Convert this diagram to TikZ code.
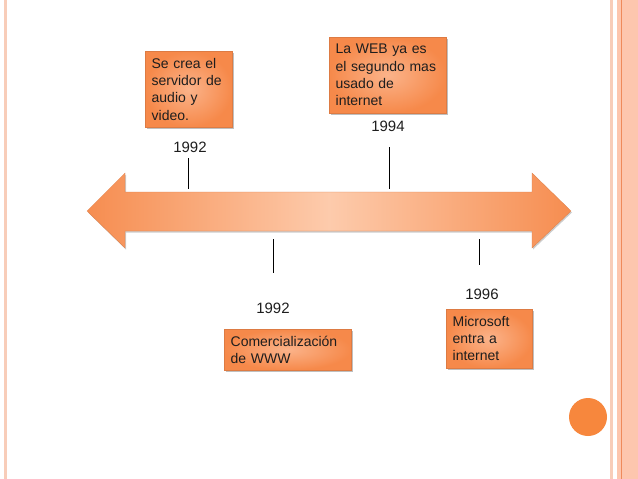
\documentclass[tikz,border=0pt]{standalone}
\usepackage{fontspec}
\setmainfont{Liberation Sans}
\usetikzlibrary{shadows}
\definecolor{boxout}{HTML}{F6894A}
\definecolor{boxin}{HTML}{FBB38A}
\definecolor{arrend}{HTML}{F68D50}
\definecolor{arrmid}{HTML}{FDCBAC}
\definecolor{bordlight}{HTML}{F8CDB9}
\definecolor{bordpanel}{HTML}{FDC6AE}
\definecolor{bordline}{HTML}{EF8A5B}
\definecolor{dotc}{HTML}{F7873D}
\definecolor{txt}{HTML}{1E1E1E}
\tikzset{
  evbox/.style={rectangle, inner color=boxin, outer color=boxout, draw=boxout!90!black, line width=0.3pt,
    drop shadow={shadow xshift=1.5pt, shadow yshift=-1.5pt, fill=black, opacity=0.25},
    anchor=north west, align=left, inner xsep=6.5pt, inner ysep=2pt,
    font=\fontsize{14}{17.3}\selectfont, text=txt},
  yearlbl/.style={font=\fontsize{15}{17}\selectfont, text=txt, inner sep=0pt},
  tick/.style={draw=black, line width=0.8pt}
}
\begin{document}
\begin{tikzpicture}[x=1pt,y=-1pt]
\useasboundingbox (0,0) rectangle (638,479);
\fill[white] (0,0) rectangle (638,479);
% borders
\fill[bordlight] (3.5,0) rectangle (7,479);
\fill[bordlight] (610,0) rectangle (612.5,479);
\fill[bordpanel] (617,0) rectangle (638,479);
\draw[bordline, line width=0.7pt] (621.8,0) -- (621.8,479);
% dot
\fill[dotc] (588,417) circle (19);
% double arrow
\path[drop shadow={shadow xshift=1pt, shadow yshift=-1.5pt, fill=black, opacity=0.2},
  left color=arrend, right color=arrend, middle color=arrmid, draw=arrend!90!black, line width=0.3pt]
  (87,211) -- (125,173) -- (125,192) -- (532,192) -- (532,173) -- (571,211)
  -- (532,248) -- (532,231) -- (125,231) -- (125,248) -- cycle;
% boxes
\node[evbox, minimum width=87, minimum height=76, text width=74] (b1) at (145,51)
  {Se crea el\\servidor de\\audio y\\video.};
\node[evbox, minimum width=117, minimum height=76, text width=104] (b2) at (329,37)
  {La WEB ya es\\el segundo mas\\usado de\\internet};
\node[evbox, minimum width=127, minimum height=41, text width=114] (b3) at (224,329)
  {Comercialización\\de WWW};
\node[evbox, minimum width=86, minimum height=59, text width=73] (b4) at (446,309)
  {Microsoft\\entra a\\internet};
% years
\node[yearlbl] (y1) at (190,147) {1992};
\node[yearlbl] (y2) at (388,126) {1994};
\node[yearlbl] (y3) at (273,308) {1992};
\node[yearlbl] (y4) at (482,294) {1996};
% ticks
\coordinate (t1a) at (188,158); \coordinate (t1b) at (188,189);
\coordinate (t2a) at (389,147); \coordinate (t2b) at (389,189);
\coordinate (t3a) at (273,239); \coordinate (t3b) at (273,273);
\coordinate (t4a) at (479,239); \coordinate (t4b) at (479,265);
\draw[tick] (t1a) -- (t1b);
\draw[tick] (t2a) -- (t2b);
\draw[tick] (t3a) -- (t3b);
\draw[tick] (t4a) -- (t4b);
\end{tikzpicture}
\end{document}
